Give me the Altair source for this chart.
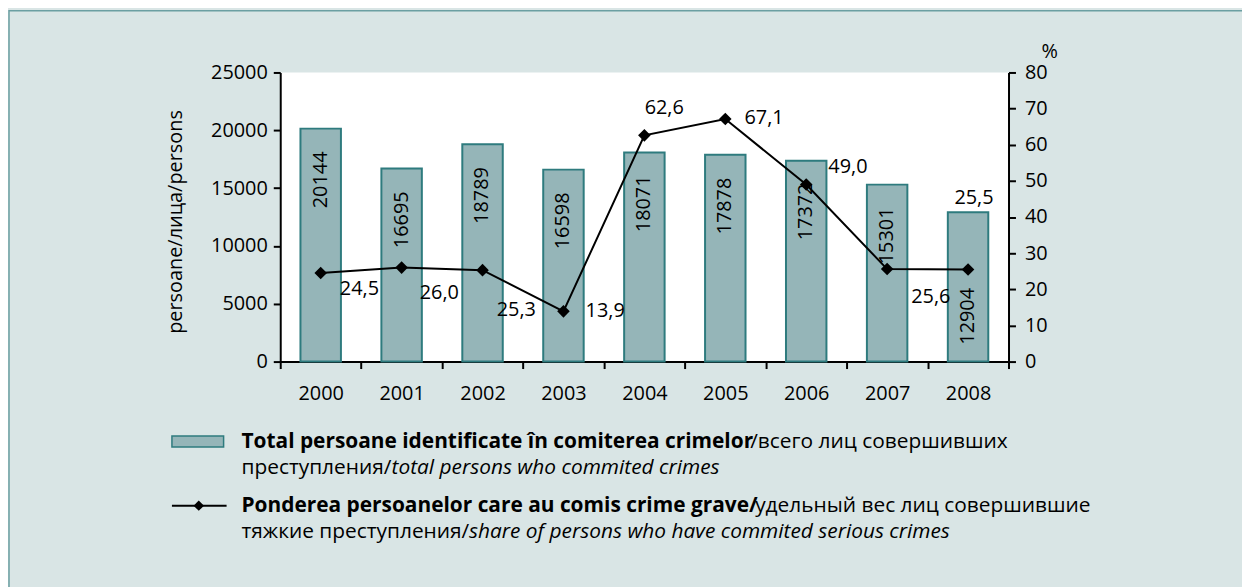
import altair as alt
import pandas as pd

# ---- data ----
years = ["2000", "2001", "2002", "2003", "2004", "2005", "2006", "2007", "2008"]
totals = [20144, 16695, 18789, 16598, 18071, 17878, 17372, 15301, 12904]
shares = [24.5, 26.0, 25.3, 13.9, 62.6, 67.1, 49.0, 25.6, 25.5]
share_labels = ["24,5", "26,0", "25,3", "13,9", "62,6", "67,1", "49,0", "25,6", "25,5"]
left_ticks = [0, 5000, 10000, 15000, 20000, 25000]
right_ticks = [0, 10, 20, 30, 40, 50, 60, 70, 80]

# label offsets (pixels) for the share labels, per year
share_dx = [39, 38, 34, 42, 20, 39, 42, 44, 6]
share_dy = [16, 26, 40, 0, -27, -1, -18, 28, -72]

df = pd.DataFrame({
    "year": years,
    "total": totals,
    "share": shares,
    "total_label": [str(v) for v in totals],
    "share_label": share_labels,
})

W, H = 733, 291
FONT = "Open Sans"
BG = "#d9e5e5"
BAR_FILL = "#95b5b8"
BAR_STROKE = "#2e7b7e"
BORDER = "#6b9fa2"

x_enc = alt.X(
    "year:N",
    sort=years,
    scale=alt.Scale(paddingInner=0, paddingOuter=0),
    axis=alt.Axis(
        title=None, labelAngle=0, tickBand="extent", labelFont=FONT,
        labelFontSize=20, labelColor="black", labelPadding=15, tickSize=7,
        tickWidth=2, tickColor="black", domainWidth=2, domainColor="black",
    ),
)

left_axis = alt.Axis(
    values=left_ticks, format="d", title="persoane/лица/persons", titleFont=FONT,
    titleFontSize=20, titleFontWeight="normal", titleColor="black",
    titleAngle=270, titleAlign="center", titleBaseline="middle",
    titleX=-105, titleY=150, labelFont=FONT, labelFontSize=20,
    labelColor="black", labelPadding=6, tickSize=7, tickWidth=2,
    tickColor="black", domainWidth=2, domainColor="black", grid=False,
)
left_scale = alt.Scale(domain=[0, 25000])

right_axis = alt.Axis(
    values=right_ticks, orient="right", title="%", titleFont=FONT,
    titleFontSize=20, titleFontWeight="normal", titleColor="black",
    titleAngle=0, titleAlign="center", titleBaseline="middle",
    titleX=41, titleY=-21, labelFont=FONT, labelFontSize=20,
    labelColor="black", labelPadding=9, tickSize=7, tickWidth=2,
    tickColor="black", domainWidth=2, domainColor="black", grid=False,
)
right_scale = alt.Scale(domain=[0, 80])

base = alt.Chart(df)

bars = base.mark_bar(
    width=alt.RelativeBandSize(0.5), fill=BAR_FILL, stroke=BAR_STROKE,
    strokeWidth=2,
).encode(x=x_enc, y=alt.Y("total:Q", scale=left_scale, axis=left_axis))

bar_text = base.transform_filter(alt.datum.year != "2008").mark_text(
    angle=270, align="right", baseline="middle", dx=-23, font=FONT,
    fontSize=20, color="black",
).encode(
    x=x_enc, y=alt.Y("total:Q", scale=left_scale, axis=left_axis),
    text="total_label:N",
)

bar_text_last = base.transform_filter(alt.datum.year == "2008").transform_calculate(
    zero="0"
).mark_text(
    angle=270, align="left", baseline="middle", dx=17, font=FONT,
    fontSize=20, color="black",
).encode(
    x=x_enc, y=alt.Y("zero:Q", scale=left_scale, axis=left_axis),
    text="total_label:N",
)

left = alt.layer(bars, bar_text, bar_text_last)

y_right = alt.Y("share:Q", scale=right_scale, axis=right_axis)
line = base.mark_line(color="black", strokeWidth=2).encode(x=x_enc, y=y_right)
pts = base.mark_point(shape="diamond", filled=True, size=160, color="black",
                      opacity=1).encode(x=x_enc, y=y_right)

label_layers = []
for yr, ddx, ddy in zip(years, share_dx, share_dy):
    label_layers.append(
        base.transform_filter(alt.datum.year == yr).mark_text(
            align="center", baseline="middle", dx=ddx, dy=ddy, font=FONT,
            fontSize=20, color="black",
        ).encode(x=x_enc, y=y_right, text="share_label:N")
    )

right = alt.layer(line, pts, *label_layers)

# ---- panel border and custom legend ----
one = alt.Data(values=[{"k": 1}])

border = alt.Chart(one).mark_rect(fill=None, stroke=BORDER, strokeWidth=1.5).encode(
    x=alt.value(-273), x2=alt.value(1000), y=alt.value(-62), y2=alt.value(600)
)

swatch = alt.Chart(one).mark_rect(fill=BAR_FILL, stroke=BAR_STROKE, strokeWidth=1.5).encode(
    x=alt.value(-109), x2=alt.value(-57), y=alt.value(366), y2=alt.value(377)
)
leg_line = alt.Chart(one).mark_rule(color="black", strokeWidth=2).encode(
    x=alt.value(-109), x2=alt.value(-54), y=alt.value(436)
)
leg_pt = alt.Chart(one).mark_point(shape="diamond", filled=True, size=110,
                                   color="black", opacity=1).encode(
    x=alt.value(-82), y=alt.value(436)
)

LEG_FS = 21
legend_segments = [
    ("Total persoane identificate în comiterea crimelor", -39, 372, "bold", "normal"),
    ("/всего лиц совершивших", 473, 372, "normal", "normal"),
    ("преступления/", -39, 398, "normal", "normal"),
    ("total persons who commited crimes", 112, 398, "normal", "italic"),
    ("Ponderea persoanelor care au comis crime grave/", -39, 436, "bold", "normal"),
    ("удельный вес лиц совершившие", 478, 436, "normal", "normal"),
    ("тяжкие преступления/", -39, 463, "normal", "normal"),
    ("share of persons who have commited serious crimes", 190, 463, "normal", "italic"),
]
leg_texts = []
for txt, lx, ly, fw, fs in legend_segments:
    leg_texts.append(
        alt.Chart(one).mark_text(
            text=txt, align="left", baseline="middle", font=FONT, fontSize=LEG_FS,
            fontWeight=fw, fontStyle=fs, color="black",
        ).encode(x=alt.value(lx), y=alt.value(ly))
    )

chart = alt.layer(
    left, right, border, swatch, leg_line, leg_pt, *leg_texts
).resolve_scale(y="independent").properties(
    width=W, height=H,
    padding={"left": 274, "top": 63, "right": 235, "bottom": 225},
    autosize=alt.AutoSizeParams(type="none"),
    background=BG,
).configure_view(fill="white", strokeWidth=0)

chart.save("out.html", embed_options={"renderer": "svg", "actions": False})
